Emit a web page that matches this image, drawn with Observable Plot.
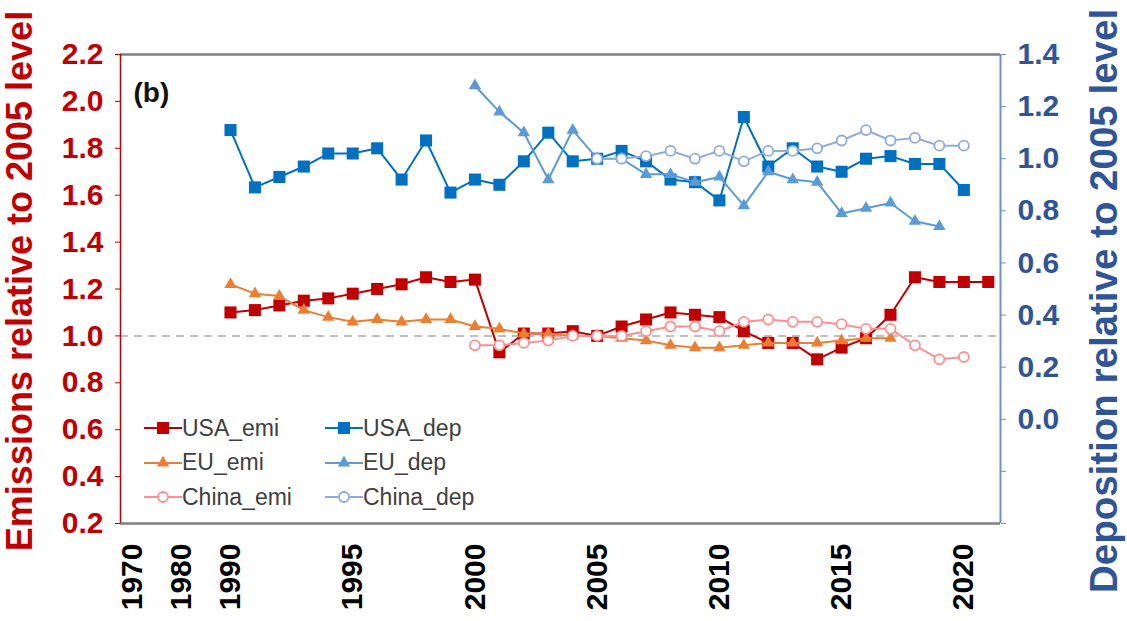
<!DOCTYPE html>
<html>
<head>
<meta charset="utf-8">
<script src="https://cdn.jsdelivr.net/npm/d3@7"></script>
<script src="https://cdn.jsdelivr.net/npm/@observablehq/plot@0.6"></script>
<style>
  body { margin: 0; background: #fff; }
  #wrap { position: relative; width: 1127px; height: 621px; font-family: "Liberation Sans", Arial, sans-serif; }
  #legend { position: absolute; left: 144px; top: 411px; display: grid; grid-template-columns: 181px auto; grid-auto-rows: 34.5px; }
  .item { display: flex; align-items: center; font-size: 23px; color: #404040; }
  .item svg { display: block; }
</style>
</head>
<body>
<div id="wrap"></div>
<script>
// ---- data ----
const usaEmiYears = d3.range(1990, 2022);
const usaEmi = [1.10,1.11,1.13,1.15,1.16,1.18,1.20,1.22,1.25,1.23,
                1.24,0.93,1.01,1.01,1.02,1.00,1.04,1.07,1.10,1.09,
                1.08,1.02,0.97,0.97,0.90,0.95,0.99,1.09,1.25,1.23,
                1.23,1.23];
const euEmiYears = d3.range(1990, 2018);
const euEmi = [1.22,1.18,1.17,1.11,1.08,1.06,1.07,1.06,1.07,1.07,
               1.04,1.03,1.01,1.01,1.00,1.00,0.99,0.98,0.96,0.95,
               0.95,0.96,0.97,0.97,0.97,0.98,0.99,0.99];
const chinaEmiYears = d3.range(2000, 2021);
const chinaEmi = [0.96,0.96,0.97,0.98,1.00,1.00,1.00,1.02,1.04,1.04,
                  1.02,1.06,1.07,1.06,1.06,1.05,1.03,1.03,0.96,0.90,0.91];

const usaDepYears = d3.range(1990, 2021);
const usaDep = [1.11,0.89,0.93,0.97,1.02,1.02,1.04,0.92,1.07,0.87,
                0.92,0.90,0.99,1.10,0.99,1.00,1.03,0.99,0.92,0.91,
                0.84,1.16,0.97,1.04,0.97,0.95,1.00,1.01,0.98,0.98,0.88];
const euDepYears = d3.range(2000, 2020);
const euDep = [1.28,1.18,1.10,0.92,1.11,1.00,1.00,0.94,0.94,0.91,
               0.93,0.82,0.95,0.92,0.91,0.79,0.81,0.83,0.76,0.74];
const chinaDepYears = d3.range(2005, 2021);
const chinaDep = [1.00,1.00,1.01,1.03,1.00,1.03,0.99,1.03,1.03,1.04,
                  1.07,1.11,1.07,1.08,1.05,1.05];

const seriesNames = ["USA_emi","EU_emi","China_emi","USA_dep","EU_dep","China_dep"];
const seriesColors = ["#C00000","#ED7D31","#FF8F8F","#0070C0","#5B9BD5","#8FAADC"];
const seriesSymbols = ["square","triangle","circle","square","triangle","circle"];

const xDomain = [1985.5, 2021.5];
const xTickPos = [1986, 1988, 1990, 1995, 2000, 2005, 2010, 2015, 2020];
const xTickLabels = ["1970","1980","1990","1995","2000","2005","2010","2015","2020"];
const leftDomain = [0.2, 2.2];
const leftTicks = d3.range(0.2, 2.21, 0.2);
const rightDomain = [-0.4, 1.4];
const rightTicks = d3.range(-0.4, 1.41, 0.2);

const leftTitle = "Emissions relative to 2005 level";
const rightTitle = "Deposition relative to 2005 level";
const panelLabel = "(b)";

// ---- build ----
const depToLeft = d3.scaleLinear().domain(rightDomain).range(leftDomain);
const mk = (years, vals, name, conv) => years.map((yr, i) => ({year: yr, v: conv ? depToLeft(vals[i]) : vals[i], name}));
const series = [
  mk(usaEmiYears, usaEmi, "USA_emi"),
  mk(euEmiYears, euEmi, "EU_emi"),
  mk(chinaEmiYears, chinaEmi, "China_emi"),
  mk(usaDepYears, usaDep, "USA_dep", true),
  mk(euDepYears, euDep, "EU_dep", true),
  mk(chinaDepYears, chinaDep, "China_dep", true)
];

function symR(sym) { return sym === "square" ? 6.8 : sym === "triangle" ? 4.6 : 5; }

const seriesMarks = [];
series.forEach((data, k) => {
  const c = seriesColors[k], sym = seriesSymbols[k];
  seriesMarks.push(Plot.line(data, {x: "year", y: "v", stroke: c, strokeWidth: 2}));
  if (sym === "circle") {
    seriesMarks.push(Plot.dot(data, {x: "year", y: "v", symbol: sym, r: symR(sym), fill: "white", stroke: c, strokeWidth: 1.8}));
  } else {
    seriesMarks.push(Plot.dot(data, {x: "year", y: "v", symbol: sym, r: symR(sym), fill: c, stroke: "none"}));
  }
});

const xLabelOf = new Map(xTickPos.map((p, i) => [p, xTickLabels[i]]));
const fmt1 = d3.format(".1f");

const chart = Plot.plot({
  width: 1127,
  height: 621,
  marginLeft: 120,
  marginRight: 127,
  marginTop: 54,
  marginBottom: 98,
  style: {fontFamily: "'Liberation Sans', Arial, sans-serif", background: "white", overflow: "visible"},
  x: {domain: xDomain, axis: null},
  y: {domain: leftDomain, axis: null},
  marks: [
    Plot.ruleY([1], {stroke: "#BFBFBF", strokeWidth: 2, strokeDasharray: "8,6"}),
    ...seriesMarks,
    Plot.ruleY(leftDomain, {stroke: "#7F7F7F", strokeWidth: 2.5}),
    Plot.ruleX([xDomain[0]], {stroke: "#C00000", strokeWidth: 1.5}),
    Plot.ruleX([xDomain[1]], {stroke: "#6F8FCF", strokeWidth: 2}),
    Plot.axisY({anchor: "left", ticks: leftTicks, tickFormat: fmt1, tickSize: 5, tickPadding: 12,
      color: "#C00000", fontSize: 30, fontWeight: "bold", label: null}),
    Plot.axisY({anchor: "right", ticks: rightTicks.map(d => depToLeft(d)),
      tickFormat: d => { const v = depToLeft.invert(d); return v < -0.01 ? "" : fmt1(Math.abs(v) < 1e-9 ? 0 : v); },
      tickSize: 5, tickPadding: 12, stroke: "#6F8FCF", fill: "#2F5597", fontSize: 30, fontWeight: "bold", label: null}),
    Plot.axisX({ticks: xTickPos, tickFormat: d => xLabelOf.get(d), tickRotate: -90, tickSize: 0, tickPadding: 20,
      fill: "black", fontSize: 30, fontWeight: "bold", label: null}),
    Plot.text([panelLabel], {text: d => d, frameAnchor: "top-left", dx: 13, dy: 28, textAnchor: "start",
      fontSize: 28, fontWeight: "bold", fill: "#111"}),
    Plot.text([leftTitle], {text: d => d, frameAnchor: "left", dx: -100, dy: -8, rotate: -90,
      textAnchor: "middle", lineAnchor: "middle", fontSize: 36, fontWeight: "bold", fill: "#C00000"}),
    Plot.text([rightTitle], {text: d => d, frameAnchor: "right", dx: 104, dy: 12, rotate: -90,
      textAnchor: "middle", lineAnchor: "middle", fontSize: 38.5, fontWeight: "bold", fill: "#2F5597"})
  ]
});

const wrap = document.getElementById("wrap");
wrap.appendChild(chart);

// legend (inside plot area, lower left)
const legend = document.createElement("div");
legend.id = "legend";
const order = [0, 3, 1, 4, 2, 5];
order.forEach(k => {
  const item = document.createElement("div");
  item.className = "item";
  const c = seriesColors[k], sym = seriesSymbols[k];
  const NS = "http://www.w3.org/2000/svg";
  const s = document.createElementNS(NS, "svg");
  s.setAttribute("width", 38); s.setAttribute("height", 20);
  const ln = document.createElementNS(NS, "line");
  ln.setAttribute("x1", 0); ln.setAttribute("x2", 38); ln.setAttribute("y1", 10); ln.setAttribute("y2", 10);
  ln.setAttribute("stroke", c); ln.setAttribute("stroke-width", 2);
  s.appendChild(ln);
  const p = document.createElementNS(NS, "path");
  const r = symR(sym);
  const d3sym = sym === "square" ? d3.symbolSquare : sym === "triangle" ? d3.symbolTriangle : d3.symbolCircle;
  p.setAttribute("d", d3.symbol(d3sym, r * r * Math.PI)());
  p.setAttribute("transform", "translate(19,10)");
  if (sym === "circle") { p.setAttribute("fill", "white"); p.setAttribute("stroke", c); p.setAttribute("stroke-width", 1.8); }
  else { p.setAttribute("fill", c); }
  s.appendChild(p);
  item.appendChild(s);
  const t = document.createElement("span");
  t.textContent = seriesNames[k];
  item.appendChild(t);
  legend.appendChild(item);
});
wrap.appendChild(legend);
</script>
</body>
</html>
